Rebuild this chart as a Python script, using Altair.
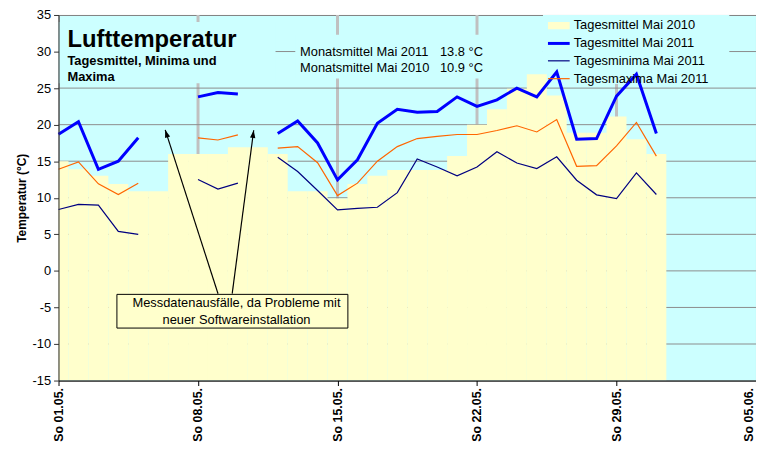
import altair as alt
import pandas as pd

# ---------------- data ----------------
days = list(range(1, 32))
mean_2010 = [15.0, 13.9, 13.0, 11.9, 10.9, 10.9, 16.0, 16.0, 16.0, 16.9, 16.9, 16.0,
             10.9, 10.9, 9.9, 11.9, 13.0, 13.8, 13.8, 13.8, 15.7, 20.0, 22.1, 24.9,
             26.9, 24.0, 18.9, 18.9, 21.1, 18.0, 16.0]
mean_2011 = [18.7, 20.4, 13.9, 15.0, 18.2, None, None, 23.8, 24.4, 24.2, None, 18.8,
             20.5, 17.5, 12.45, 15.2, 20.2, 22.1, 21.7, 21.8, 23.8, 22.5, 23.4, 25.0,
             23.8, 27.2, 18.0, 18.1, 23.9, 26.9, 18.8]
min_2011 = [8.4, 9.1, 9.0, 5.4, 5.0, None, None, 12.5, 11.2, 12.0, None, 15.55,
            13.6, 11.0, 8.35, 8.55, 8.7, 10.7, 15.3, 14.2, 13.0, 14.2, 16.3, 14.75,
            14.0, 15.6, 12.4, 10.4, 9.9, 13.4, 10.45]
max_2011 = [13.9, 14.9, 11.9, 10.45, 12.0, None, None, 18.2, 17.9, 18.6, None, 16.8,
            17.0, 14.8, 10.3, 12.0, 15.0, 17.0, 18.1, 18.4, 18.65, 18.65, 19.2, 19.85,
            19.0, 20.7, 14.3, 14.4, 17.1, 20.3, 15.7]

tick_days = [1, 8, 15, 22, 29, 36]
tick_labels = ["So 01.05.", "So 08.05.", "So 15.05.", "So 22.05.", "So 29.05.", "So 05.06."]
y_ticks = list(range(-15, 40, 5))

series_names = ["Tagesmittel Mai 2010", "Tagesmittel Mai 2011",
                "Tagesminima Mai 2011", "Tagesmaxima Mai 2011"]
series_colors = ["#ffffcc", "#0000ff", "#000080", "#ff6600"]
series_widths = [0, 3, 1.2, 1.2]

title_text = "Lufttemperatur"
subtitle_lines = ["Tagesmittel, Minima und", "Maxima"]
month_labels = ["Monatsmittel Mai 2011", "Monatsmittel Mai 2010"]
month_values = ["13.8 °C", "10.9 °C"]
note_lines = ["Messdatenausfälle, da Probleme mit", "neuer Softwareinstallation"]

# ---------------- helpers ----------------
FONT = "Liberation Sans"
xscale = alt.Scale(domain=[1, 36], nice=False, zero=False)
yscale = alt.Scale(domain=[-15, 35], nice=False, zero=False)

label_expr = ""
for d, l in zip(tick_days, tick_labels):
    label_expr += f"datum.value == {d} ? '{l}' : "
label_expr += "''"

xaxis = alt.Axis(values=tick_days, labelExpr=label_expr, labelAngle=270,
                 labelFontWeight="bold", labelFontSize=12.5, labelPadding=2,
                 labelOffset=alt.condition(f"datum.value == {tick_days[-1]}", alt.value(-8), alt.value(0)),
                 tickSize=5, grid=False, title=None, zindex=1,
                 domainColor="#000000", tickColor="#000000", labelColor="#000000")
yaxis = alt.Axis(values=y_ticks, labelExpr="toString(datum.value)",
                 labelFontSize=13, tickSize=5, labelPadding=3,
                 grid=False, title="Temperatur (°C)", titleFontWeight="bold",
                 titleFontSize=12, titlePadding=4, zindex=1,
                 domainColor="#333333", tickColor="#333333", labelColor="#000000",
                 titleColor="#000000")


def X(f):
    return alt.X(f, type="quantitative", scale=xscale, axis=xaxis)


def Y(f):
    return alt.Y(f, type="quantitative", scale=yscale, axis=yaxis)


# ---------------- tables ----------------
bars = pd.DataFrame({"day": days, "v": mean_2010})
bars["x0"] = bars["day"] - 0.5
bars["x1"] = bars["day"] + 0.5
bars["base"] = -15


def line_df(vals):
    rows, seg = [], 0
    for d, v in zip(days, vals):
        if v is None:
            seg += 1
            continue
        rows.append({"day": d, "v": v, "seg": seg})
    return pd.DataFrame(rows)


vgrid = pd.DataFrame({"day": tick_days[1:-1]})
hgrid = pd.DataFrame({"v": y_ticks[1:-1]})

# cyan text boxes (title, monthly means, legend) in data units
boxes = pd.DataFrame({
    "x0": [1.0, 12.88, 25.31],
    "x1": [11.89, 25.31, 34.66],
    "y0": [34.05, 32.29, 35.0],
    "y1": [25.65, 26.33, 25.55],
})

note_box = pd.DataFrame({"x0": [3.93], "x1": [15.52], "y0": [-3.21], "y1": [-7.82]})
note_text = pd.DataFrame({"x": [9.93, 9.93], "y": [-4.43, -6.69], "t": note_lines})
arrows = pd.DataFrame({"x": [9.004, 9.715], "y": [-3.12, -3.12],
                       "x2": [6.354, 10.794], "y2": [19.28, 19.24],
                       "ang": [342.1, 7.5]})

leg_rect = pd.DataFrame({"x0": [25.56], "x1": [26.65], "y0": [34.05], "y1": [33.06]})
leg_y = [33.60, 31.11, 28.73, 26.29]
leg_lines = pd.DataFrame({"x": [25.56] * 3, "x2": [26.65] * 3, "y": leg_y[1:],
                          "c": series_colors[1:], "w": series_widths[1:]})
leg_text = pd.DataFrame({"x": [26.85] * 4, "y": leg_y, "t": series_names})

title_df = pd.DataFrame({"x": [1.447], "y": [30.66], "t": [title_text]})
sub_df = pd.DataFrame({"x": [1.447, 1.447], "y": [28.18, 26.02], "t": subtitle_lines})
month_df = pd.DataFrame({"x": [13.12, 13.12], "y": [29.38, 27.24], "t": month_labels})
monthv_df = pd.DataFrame({"x": [20.14, 20.14], "y": [29.38, 27.24], "t": month_values})

# ---------------- layers ----------------
l_vgrid = alt.Chart(vgrid).mark_rule(color="#c0c0c0", strokeWidth=3).encode(x=X("day"))
l_hgrid = alt.Chart(hgrid).mark_rule(color="#8c8c8c", strokeWidth=1).encode(y=Y("v"))
l_boxes = alt.Chart(boxes).mark_rect(fill="#ccffff").encode(
    x=X("x0"), x2="x1", y=Y("y0"), y2="y1")
l_bars = alt.Chart(bars).mark_rect(color=series_colors[0], clip=True).encode(
    x=X("x0"), x2="x1", y=Y("v"), y2="base")

l_note_box = alt.Chart(note_box).mark_rect(fill="#ffffcc", stroke="#000000", strokeWidth=1).encode(
    x=X("x0"), x2="x1", y=Y("y0"), y2="y1")
l_note_text = alt.Chart(note_text).mark_text(font=FONT, fontSize=13, color="#000000",
                                             align="center", baseline="middle").encode(
    x=X("x"), y=Y("y"), text="t:N")
l_arrows = alt.Chart(arrows).mark_rule(color="#000000", strokeWidth=1.2).encode(
    x=X("x"), y=Y("y"), x2="x2", y2="y2")
l_heads = alt.Chart(arrows).mark_point(shape="M0,0L0.9,2.6L-0.9,2.6Z", filled=True,
                                        color="#000000", opacity=1, size=36).encode(
    x=X("x2"), y=Y("y2"), angle=alt.Angle("ang:Q", scale=None))

l_max = alt.Chart(line_df(max_2011)).mark_line(color=series_colors[3], strokeWidth=series_widths[3]).encode(
    x=X("day"), y=Y("v"), detail="seg:N")
l_min = alt.Chart(line_df(min_2011)).mark_line(color=series_colors[2], strokeWidth=series_widths[2]).encode(
    x=X("day"), y=Y("v"), detail="seg:N")
l_mean = alt.Chart(line_df(mean_2011)).mark_line(color=series_colors[1], strokeWidth=series_widths[1]).encode(
    x=X("day"), y=Y("v"), detail="seg:N")

l_leg_rect = alt.Chart(leg_rect).mark_rect(fill=series_colors[0]).encode(
    x=X("x0"), x2="x1", y=Y("y0"), y2="y1")
l_leg_lines = alt.Chart(leg_lines).mark_rule().encode(
    x=X("x"), x2="x2", y=Y("y"),
    color=alt.Color("c:N", scale=None), strokeWidth=alt.StrokeWidth("w:Q", scale=None))
l_leg_text = alt.Chart(leg_text).mark_text(font=FONT, fontSize=13, color="#000000",
                                           align="left", baseline="middle").encode(
    x=X("x"), y=Y("y"), text="t:N")

l_title = alt.Chart(title_df).mark_text(font=FONT, fontSize=24, fontWeight="bold",
                                        color="#000000", align="left", baseline="alphabetic").encode(
    x=X("x"), y=Y("y"), text="t:N")
l_sub = alt.Chart(sub_df).mark_text(font=FONT, fontSize=13, fontWeight="bold",
                                    color="#000000", align="left", baseline="alphabetic").encode(
    x=X("x"), y=Y("y"), text="t:N")
l_month = alt.Chart(month_df).mark_text(font=FONT, fontSize=13, color="#000000",
                                        align="left", baseline="alphabetic").encode(
    x=X("x"), y=Y("y"), text="t:N")
l_monthv = alt.Chart(monthv_df).mark_text(font=FONT, fontSize=13, color="#000000",
                                          align="left", baseline="alphabetic").encode(
    x=X("x"), y=Y("y"), text="t:N")

chart = alt.layer(
    l_vgrid, l_hgrid, l_boxes, l_bars, l_note_box, l_arrows, l_heads,
    l_max, l_min, l_mean, l_leg_rect, l_leg_lines, l_leg_text,
    l_title, l_sub, l_month, l_monthv, l_note_text,
).properties(
    width=704, height=369,
    padding={"left": 51, "top": 5, "right": 0, "bottom": 64},
    autosize=alt.AutoSizeParams(type="none"),
    background="#ffffff",
).configure(font=FONT).configure_view(
    fill="#ccffff", stroke="#808080", strokeWidth=1
).configure_axis(labelFont=FONT, titleFont=FONT)

chart.save("out.html", embed_options={"renderer": "svg", "actions": False})
